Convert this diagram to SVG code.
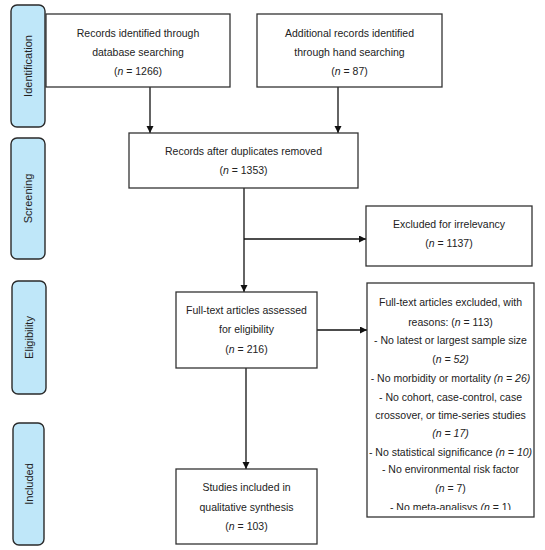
<svg xmlns="http://www.w3.org/2000/svg" width="545" height="550" viewBox="0 0 545 550">
  <style>
    .phase { fill: #bfe7f9; stroke: #2a2a2a; stroke-width: 1.4; }
    .box { fill: #ffffff; stroke: #333333; stroke-width: 1.3; }
    .t { font-family: "Liberation Sans", Arial, sans-serif; font-size: 10.5px; fill: #222222; text-anchor: middle; }
    .pt { font-family: "Liberation Sans", Arial, sans-serif; font-size: 11px; fill: #222222; text-anchor: middle; }
    .i { font-style: italic; }
    .c { fill: none; stroke: #111111; stroke-width: 1.3; }
  </style>
  <defs>
    <marker id="arr" markerUnits="userSpaceOnUse" markerWidth="8" markerHeight="8" refX="7" refY="3.5" orient="auto">
      <path d="M0,0 L7,3.5 L0,7 z" fill="#111111"/>
    </marker>
    <clipPath id="clip6">
      <rect x="367" y="283" width="167" height="227"/>
    </clipPath>
  </defs>
  <rect width="545" height="550" fill="#ffffff"/>

  <g id="phase-identification">
    <rect class="phase" x="11" y="5" width="34" height="122" rx="6"/>
    <text class="pt" transform="translate(32,66) rotate(-90)">Identification</text>
  </g>
  <g id="phase-screening">
    <rect class="phase" x="11" y="138" width="34" height="121" rx="6"/>
    <text class="pt" transform="translate(32,198.5) rotate(-90)">Screening</text>
  </g>
  <g id="phase-eligibility">
    <rect class="phase" x="12" y="281" width="34" height="113" rx="6"/>
    <text class="pt" transform="translate(33,337.5) rotate(-90)">Eligibility</text>
  </g>
  <g id="phase-included">
    <rect class="phase" x="13" y="423" width="31" height="122" rx="6"/>
    <text class="pt" transform="translate(32.5,484) rotate(-90)">Included</text>
  </g>

  <g id="connectors">
    <line class="c" x1="150" y1="87" x2="150" y2="133" marker-end="url(#arr)"/>
    <line class="c" x1="338" y1="87" x2="338" y2="133" marker-end="url(#arr)"/>
    <line class="c" x1="244" y1="188" x2="244" y2="292" marker-end="url(#arr)"/>
    <line class="c" x1="244" y1="239" x2="366" y2="239" marker-end="url(#arr)"/>
    <line class="c" x1="317" y1="330" x2="367" y2="330" marker-end="url(#arr)"/>
    <line class="c" x1="246" y1="368" x2="246" y2="469" marker-end="url(#arr)"/>
  </g>

  <g id="box-database">
    <rect class="box" x="46" y="14" width="184" height="73"/>
    <text class="t" x="138" y="37">Records identified through</text>
    <text class="t" x="138" y="56">database searching</text>
    <text class="t" x="138" y="75">(<tspan class="i">n</tspan> = 1266)</text>
  </g>
  <g id="box-hand">
    <rect class="box" x="257" y="14" width="185" height="73"/>
    <text class="t" x="349.5" y="37">Additional records identified</text>
    <text class="t" x="349.5" y="56">through hand searching</text>
    <text class="t" x="349.5" y="75">(<tspan class="i">n</tspan> = 87)</text>
  </g>
  <g id="box-duplicates">
    <rect class="box" x="129" y="133" width="229" height="55"/>
    <text class="t" x="243.5" y="155">Records after duplicates removed</text>
    <text class="t" x="243.5" y="174">(<tspan class="i">n</tspan> = 1353)</text>
  </g>
  <g id="box-irrelevant">
    <rect class="box" x="366" y="206" width="166" height="60"/>
    <text class="t" x="449" y="228">Excluded for irrelevancy</text>
    <text class="t" x="449" y="247">(<tspan class="i">n</tspan> = 1137)</text>
  </g>
  <g id="box-fulltext">
    <rect class="box" x="176" y="292" width="141" height="76"/>
    <text class="t" x="246.5" y="314">Full-text articles assessed</text>
    <text class="t" x="246.5" y="333">for eligibility</text>
    <text class="t" x="246.5" y="353">(<tspan class="i">n</tspan> = 216)</text>
  </g>
  <g id="box-excluded">
    <rect class="box" x="367" y="283" width="167" height="234"/>
    <g clip-path="url(#clip6)">
      <text class="t" x="450.5" y="306">Full-text articles excluded, with</text>
      <text class="t" x="450.5" y="326">reasons: (<tspan class="i">n</tspan> = 113)</text>
      <text class="t" x="450.5" y="344">- No latest or largest sample size</text>
      <text class="t" x="450.5" y="363">(<tspan class="i">n = 52)</tspan></text>
      <text class="t" x="450.5" y="382">- No morbidity or mortality <tspan class="i">(n = 26)</tspan></text>
      <text class="t" x="450.5" y="401">- No cohort, case-control, case</text>
      <text class="t" x="450.5" y="419">crossover, or time-series studies</text>
      <text class="t" x="450.5" y="437"><tspan class="i">(n = 17)</tspan></text>
      <text class="t" x="450.5" y="456">- No statistical significance <tspan class="i">(n = 10)</tspan></text>
      <text class="t" x="450.5" y="473">- No environmental risk factor</text>
      <text class="t" x="450.5" y="492"><tspan class="i">(n</tspan> = 7)</text>
      <text class="t" x="450.5" y="511">- No meta-analisys <tspan class="i">(n</tspan> = 1)</text>
    </g>
  </g>
  <g id="box-included">
    <rect class="box" x="176" y="469" width="141" height="75"/>
    <text class="t" x="246.5" y="491">Studies included in</text>
    <text class="t" x="246.5" y="511">qualitative synthesis</text>
    <text class="t" x="246.5" y="530">(<tspan class="i">n</tspan> = 103)</text>
  </g>
</svg>
